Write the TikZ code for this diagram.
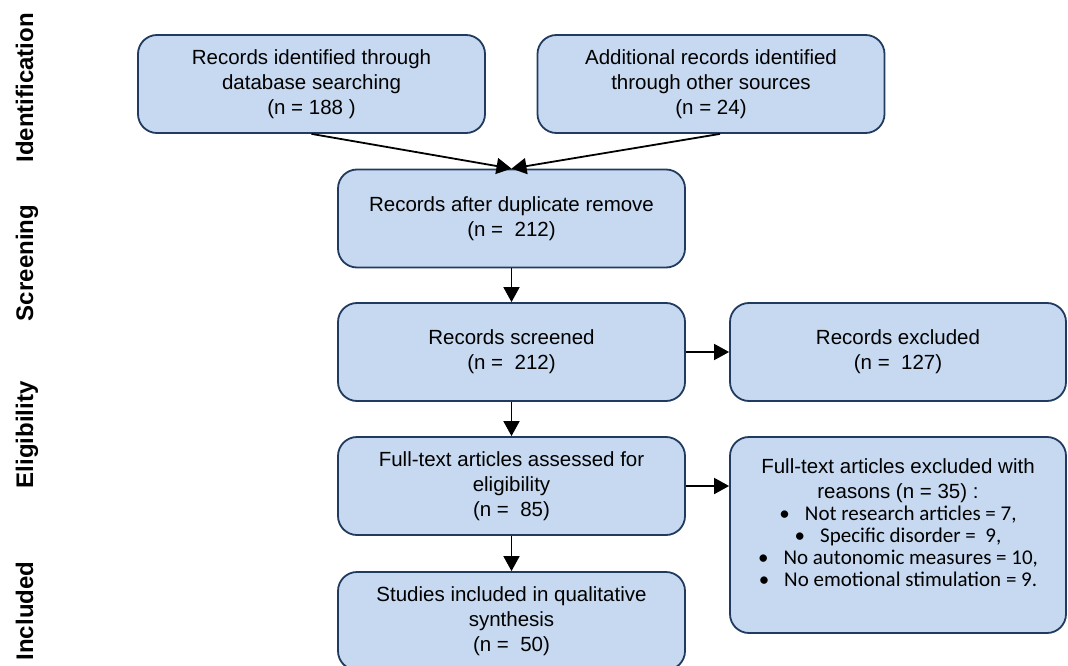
\documentclass[tikz,border=0pt]{standalone}
\usepackage{fontspec}
\setmainfont{Liberation Sans}
\newfontfamily\bulletfont{Carlito}
\usetikzlibrary{arrows.meta}

\definecolor{boxfill}{RGB}{198,217,240}
\definecolor{boxline}{RGB}{33,59,96}

% one bullet line in the exclusion box
\newcommand{\reasonline}[1]{{\bulletfont\fontsize{21}{22}\selectfont\textbullet\hspace{15pt}#1}}

\tikzset{
    flowbox/.style={draw=boxline, fill=boxfill, line width=1.8pt, rounded corners=19pt,
        minimum width=347pt, minimum height=98pt, align=center,
        font=\fontsize{20.5}{25}\selectfont},
    phase/.style={rotate=90, anchor=base, font=\fontsize{24}{28}\selectfont\bfseries},
    flowarrow/.style={line width=1.8pt, -{Triangle[width=16pt,length=15pt]}}
}

\begin{document}
\begin{tikzpicture}[x=1pt, y=-1pt]
    \useasboundingbox (0,0) rectangle (1068,666);

    % Phase labels on the left
    \node[phase] (lid) at (33,88) {Identification};
    \node[phase] (lsc) at (33,263) {Screening};
    \node[phase] (lel) at (33,435) {Eligibility};
    \node[phase] (lin) at (33,611) {Included};

    % Identification
    \node[flowbox] (dbrec) at (311.5,84) {Records identified through\\database searching\\(n = 188 )};
    \node[flowbox] (othrec) at (711,84) {Additional records identified\\through other sources\\(n = 24)};

    % Screening
    \node[flowbox] (dedup) at (511.5,218.5) {Records after duplicate remove\\(n =\ \ 212)};
    \node[flowbox] (screen) at (511.5,352) {Records screened\\(n =\ \ 212)};
    \node[flowbox, minimum width=336pt] (excl) at (898,352) {Records excluded\\(n =\ \ 127)};

    % Eligibility
    \node[flowbox] (fulltext) at (511.5,486) {Full-text articles assessed for\\eligibility\\(n =\ \ 85)};
    \node[flowbox, minimum width=336pt, minimum height=196pt] (ftexcl) at (898,535) {%
        Full-text articles excluded with\\reasons (n = 35) :\\[-3pt]
        \reasonline{Not research articles = 7,}\\[-3pt]
        \reasonline{Specific disorder =\ \ 9,}\\[-3pt]
        \reasonline{No autonomic measures = 10,}\\[-3pt]
        \reasonline{No emotional stimulation = 9.}\\[0pt]
        \mbox{}};

    % Included
    \node[flowbox] (incl) at (511.5,621) {Studies included in qualitative\\synthesis\\(n =\ \ 50)};

    % Arrows
    \draw[flowarrow] (dbrec.south) -- (dedup.north);
    \draw[flowarrow] ([xshift=9pt]othrec.south) -- (dedup.north);
    \draw[flowarrow] (dedup) -- (screen);
    \draw[flowarrow] (screen) -- (excl);
    \draw[flowarrow] (screen) -- (fulltext);
    \draw[flowarrow] (fulltext.east) -- (fulltext.east -| ftexcl.west);
    \draw[flowarrow] (fulltext) -- (incl);
\end{tikzpicture}
\end{document}
